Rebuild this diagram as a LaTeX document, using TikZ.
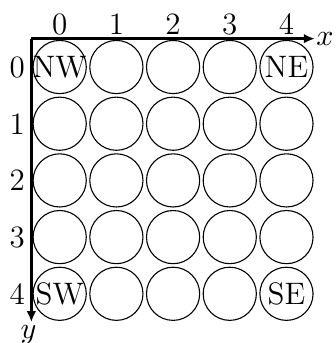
\documentclass[tikz,border=0pt]{standalone}
\usepackage{tikz}
\usetikzlibrary{arrows.meta}
\tikzset{cell/.style={draw, circle, inner sep=0pt, minimum size=0.68cm},
  axis/.style={line width=1pt, -{Latex[length=4pt, width=3.5pt]}}}

\begin{document}
\begin{tikzpicture}[x=0.725cm, y=0.725cm, font=\fontsize{11.3}{13.5}\selectfont]
  \useasboundingbox (-1.053,1.182) rectangle (4.873,-4.868);
  \foreach \i in {0,...,4}
    \foreach \j in {0,...,4}
      \node[cell] (c\i\j) at (\i,-\j) {};
  \node (nw) at (c00) {NW};
  \node (ne) at (c40) {NE};
  \node (sw) at (c04) {SW};
  \node (se) at (c44) {SE};
  % axes
  \coordinate (o) at (-0.5,0.5);
  \coordinate (xend) at (4.5,0.5);
  \coordinate (yend) at (-0.5,-4.5);
  \draw[axis] (o) -- (xend);
  \draw[axis] (o) -- (yend);
  \node (xlab) at (4.68,0.5) {$x$};
  \node (ylab) at (-0.55,-4.72) {$y$};
  \foreach \i in {0,...,4} {
    \node (col\i) at (\i,0.75) {\i};
    \node (row\i) at (-0.75,-\i) {\i};
  }
\end{tikzpicture}
\end{document}
